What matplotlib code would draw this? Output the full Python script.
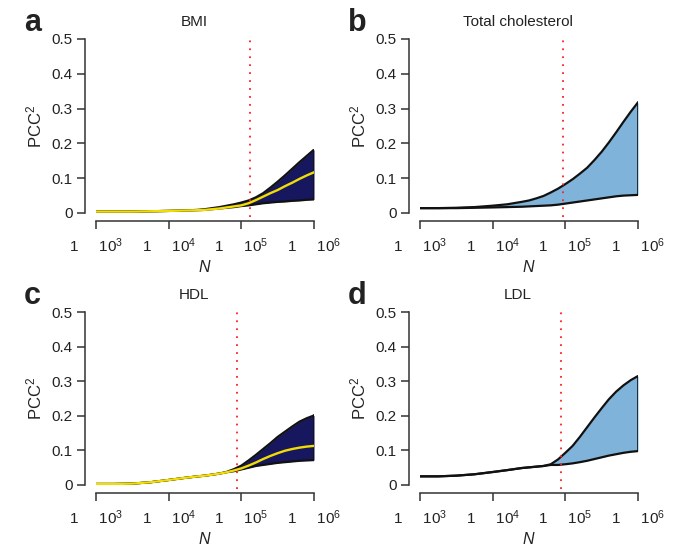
import numpy as np
import matplotlib
matplotlib.use("Agg")
import matplotlib.pyplot as plt

plt.rcParams["font.family"] = ["Liberation Sans", "DejaVu Sans"]
plt.rcParams["mathtext.fontset"] = "custom"
plt.rcParams["mathtext.rm"] = "Liberation Sans"
plt.rcParams["mathtext.it"] = "Liberation Sans:italic"

TEXT = "#222222"
NAVY = "#171760"
YELLOW = "#f2dd00"
LIGHT = "#7fb3d9"

# log10(N) sample positions shared by all panels
log_n = [3.0, 3.25, 3.5, 3.75, 4.0, 4.2, 4.4, 4.5, 4.6, 4.7, 4.8, 4.9,
         5.0, 5.1, 5.2, 5.3, 5.4, 5.5, 5.6, 5.7, 5.8, 5.9, 6.0]

# BMI
bmi_upper = [0.004, 0.004, 0.004, 0.005, 0.006, 0.007, 0.009, 0.011, 0.014, 0.017,
             0.021, 0.025, 0.030, 0.036, 0.045, 0.057, 0.073, 0.090, 0.108, 0.127,
             0.146, 0.164, 0.182]
bmi_mean = [0.004, 0.004, 0.004, 0.005, 0.006, 0.007, 0.008, 0.009, 0.011, 0.013,
            0.016, 0.019, 0.022, 0.028, 0.037, 0.047, 0.057, 0.066, 0.077, 0.087,
            0.098, 0.108, 0.117]
bmi_lower = [0.004, 0.004, 0.004, 0.005, 0.006, 0.007, 0.008, 0.009, 0.011, 0.013,
             0.015, 0.017, 0.020, 0.022, 0.025, 0.028, 0.030, 0.032, 0.033, 0.035,
             0.036, 0.038, 0.039]

# Total cholesterol
tc_upper = [0.014, 0.014, 0.015, 0.017, 0.021, 0.025, 0.032, 0.036, 0.042, 0.049,
            0.059, 0.070, 0.083, 0.097, 0.113, 0.130, 0.152, 0.176, 0.203, 0.232,
            0.262, 0.291, 0.318]
tc_lower = [0.014, 0.014, 0.014, 0.015, 0.016, 0.017, 0.018, 0.019, 0.020, 0.021,
            0.022, 0.024, 0.027, 0.030, 0.033, 0.036, 0.039, 0.042, 0.045, 0.048,
            0.050, 0.051, 0.052]

# HDL
hdl_upper = [0.003, 0.003, 0.004, 0.008, 0.0145, 0.020, 0.025, 0.027, 0.030, 0.033,
             0.038, 0.046, 0.056, 0.071, 0.087, 0.104, 0.121, 0.139, 0.154, 0.169,
             0.183, 0.193, 0.201]
hdl_mean = [0.003, 0.003, 0.004, 0.008, 0.0145, 0.020, 0.025, 0.027, 0.030, 0.033,
            0.037, 0.042, 0.048, 0.056, 0.065, 0.075, 0.084, 0.092, 0.099, 0.104,
            0.108, 0.111, 0.113]
hdl_lower = [0.003, 0.003, 0.004, 0.008, 0.0145, 0.020, 0.025, 0.027, 0.030, 0.033,
             0.037, 0.040, 0.045, 0.050, 0.055, 0.058, 0.061, 0.064, 0.066, 0.068,
             0.070, 0.071, 0.072]

# LDL
ldl_upper = [0.025, 0.025, 0.027, 0.031, 0.0375, 0.043, 0.049, 0.051, 0.053, 0.055,
             0.060, 0.074, 0.093, 0.113, 0.139, 0.167, 0.195, 0.222, 0.248, 0.270,
             0.288, 0.303, 0.315]
ldl_lower = [0.025, 0.025, 0.027, 0.031, 0.0375, 0.043, 0.049, 0.051, 0.053, 0.055,
             0.058, 0.058, 0.060, 0.0625, 0.066, 0.070, 0.075, 0.080, 0.085, 0.089,
             0.093, 0.096, 0.098]

titles = ["BMI", "Total cholesterol", "HDL", "LDL"]
letters = ["a", "b", "c", "d"]
cutoffs = [1.32e5, 9.2e4, 8.8e4, 8.6e4]

panels = [
    (bmi_upper, bmi_lower, bmi_mean, NAVY),
    (tc_upper, tc_lower, None, LIGHT),
    (hdl_upper, hdl_lower, hdl_mean, NAVY),
    (ldl_upper, ldl_lower, None, LIGHT),
]

x_ticks = [1e3, 1e4, 1e5, 1e6]
x_labels = [r"1     $10^{3}$", r"1     $10^{4}$", r"1     $10^{5}$", r"1     $10^{6}$"]
y_ticks = [0, 0.1, 0.2, 0.3, 0.4, 0.5]
y_labels = ["0", "0.1", "0.2", "0.3", "0.4", "0.5"]

fig = plt.figure(figsize=(6.76, 5.47), dpi=100)

W, H = 676, 547
# pixel boxes: (left, right, top, bottom) of the data area
boxes = [(96, 314, 39, 213), (420, 638, 39, 213),
         (96, 314, 312, 485), (420, 638, 312, 485)]

n = 10 ** np.array(log_n)

for i, (upper, lower, mean, fill) in enumerate(panels):
    l, r, t, b = boxes[i]
    ax = fig.add_axes([l / W, 1 - b / H, (r - l) / W, (b - t) / H])
    ax.set_xscale("log")
    ax.set_xlim(1e3, 1e6)
    ax.set_ylim(0, 0.5)

    ax.fill_between(n, lower, upper, color=fill, lw=0, zorder=1)
    ax.plot(n, upper, color="#111111", lw=1.6, zorder=3, solid_capstyle="butt")
    ax.plot(n, lower, color="#111111", lw=1.6, zorder=3, solid_capstyle="butt")
    ax.plot([n[-1], n[-1]], [lower[-1], upper[-1]], color="#111111", lw=1.2, zorder=3)
    if mean is not None:
        ax.plot(n, mean, color=YELLOW, lw=1.7, zorder=4)

    ax.plot([cutoffs[i], cutoffs[i]], [-0.012, 0.51], color="#ff2020", lw=1.3,
            ls=(0, (1, 3.4)), zorder=5, clip_on=False)

    for side in ["top", "right"]:
        ax.spines[side].set_visible(False)
    ax.spines["left"].set_position(("outward", 8))
    ax.spines["bottom"].set_position(("outward", 6))
    ax.spines["left"].set_bounds(0, 0.5)
    ax.spines["bottom"].set_bounds(1e3, 1e6)
    for side in ["left", "bottom"]:
        ax.spines[side].set_color("#333333")
        ax.spines[side].set_linewidth(1.1)

    ax.set_xticks(x_ticks)
    ax.set_xticklabels(x_labels)
    ax.xaxis.set_minor_locator(matplotlib.ticker.NullLocator())
    ax.set_yticks(y_ticks)
    ax.set_yticklabels(y_labels)
    ax.tick_params(axis="both", direction="out", length=6, width=1.1,
                   color="#333333", labelcolor=TEXT, labelsize=11)
    ax.tick_params(axis="x", pad=5)
    ax.tick_params(axis="y", pad=3)

    ax.set_xlabel("$\\it{N}$", fontsize=11.5, color=TEXT, labelpad=3)
    ax.set_ylabel(r"PCC$^2$", fontsize=12, color=TEXT, labelpad=5)

    ax.text(0.45, 1.06, titles[i], transform=ax.transAxes, ha="center",
            va="bottom", fontsize=11, color=TEXT)
    fig.text((l - 72) / W, 1 - (t - 16) / H, letters[i], fontsize=22,
             fontweight="bold", color="#222222", ha="left", va="center")

fig.savefig("out.png", dpi=100)
